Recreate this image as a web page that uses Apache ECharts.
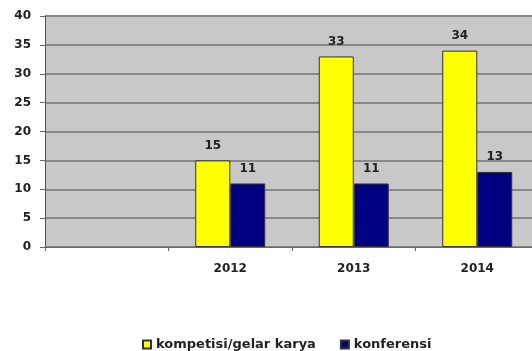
<!DOCTYPE html>
<html>
<head>
<meta charset="utf-8">
<script src="https://cdn.jsdelivr.net/npm/echarts@6/dist/echarts.min.js"></script>
<style>
  html, body { margin: 0; padding: 0; background: #fff; overflow: hidden; }
  /* plot area runs slightly past the right window edge */
  #chart { width: 540px; height: 351px; }
</style>
</head>
<body>
<div id="chart"></div>
<script>
// Years shown on the category axis (first slot is left blank)
const categories = ['', '2012', '2013', '2014'];
// Counts per year
const kompetisi = [null, 15, 33, 34];
const konferensi = [null, 11, 11, 13];
const seriesNames = ['kompetisi/gelar karya', 'konferensi'];

const labelFont = { fontFamily: 'DejaVu Sans', fontWeight: 'bold', fontSize: 12, color: '#222' };

const chart = echarts.init(document.getElementById('chart'), null, { renderer: 'canvas' });
chart.setOption({
  animation: false,
  backgroundColor: '#ffffff',
  grid: {
    left: 45, right: 1, top: 16, height: 231,
    show: true, backgroundColor: '#c8c8c8', borderWidth: 0
  },
  legend: {
    left: 137, top: 333,
    itemWidth: 8, itemHeight: 8, itemGap: 24,
    icon: 'rect',
    textStyle: { fontFamily: 'DejaVu Sans', fontWeight: 'bold', fontSize: 13, color: '#222', padding: [0, 0, 0, 0] },
    data: seriesNames
  },
  xAxis: {
    type: 'category',
    data: categories,
    axisLine: { lineStyle: { color: '#666', width: 1 } },
    axisTick: { show: true, length: 4, lineStyle: { color: '#666' } },
    axisLabel: Object.assign({ margin: 16 }, labelFont)
  },
  yAxis: {
    type: 'value',
    min: 0, max: 40, interval: 5,
    axisLine: { show: true, lineStyle: { color: '#555', width: 1 } },
    axisTick: { show: true, length: 5, lineStyle: { color: '#666' } },
    axisLabel: Object.assign({ margin: 14 }, labelFont),
    splitLine: { lineStyle: { color: '#888', width: 2 } }
  },
  series: [
    {
      name: seriesNames[0], type: 'bar', data: kompetisi,
      barWidth: 35, barGap: '0%',
      itemStyle: { color: '#ffff00', borderColor: '#333', borderWidth: 1 },
      label: Object.assign({ show: true, position: 'top', distance: 9 }, labelFont)
    },
    {
      name: seriesNames[1], type: 'bar', data: konferensi,
      barWidth: 35,
      itemStyle: { color: '#000080', borderColor: '#333', borderWidth: 1 },
      label: Object.assign({ show: true, position: 'top', distance: 9 }, labelFont)
    }
  ]
});
</script>
</body>
</html>
